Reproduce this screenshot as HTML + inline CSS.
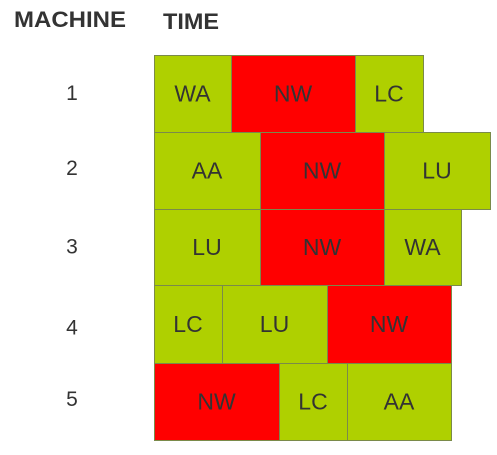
<!DOCTYPE html>
<html><head><meta charset="utf-8"><style>
body{margin:0;width:497px;height:450px;background:#fff;overflow:hidden;font-family:"Liberation Sans",sans-serif}
</style></head><body>
<svg width="497" height="450">
<text x="14" y="27" font-size="22" font-weight="bold" fill="#333" textLength="112" lengthAdjust="spacingAndGlyphs">MACHINE</text>
<text x="163" y="29" font-size="22" font-weight="bold" fill="#333" textLength="56" lengthAdjust="spacingAndGlyphs">TIME</text>
<g id="g"></g>
</svg>
<script>
const machines=["1","2","3","4","5"];
const tasks=[["WA","NW","LC"],["AA","NW","LU"],["LU","NW","WA"],["LC","LU","NW"],["NW","LC","AA"]];
const durations=[[77,124,68],[106,124,106],[106,124,77],[68,105,124],[125,68,104]];
const x0=154,rowTop=[55,132,209,285,363],rowBottom=[132,209,285,363,440];
const xs=v=>x0+v;
const g=document.getElementById('g');
const ns="http://www.w3.org/2000/svg";
machines.forEach((m,i)=>{
  const y0=rowTop[i],h=rowBottom[i]-rowTop[i];
  const t=document.createElementNS(ns,'text');
  t.setAttribute('x',72);t.setAttribute('y',y0+h/2+(i==1?-2:0)+(i==3?4:0)+(i==4?-2:0));
  t.setAttribute('font-size',21);t.setAttribute('fill','#333');t.setAttribute('text-anchor','middle');t.setAttribute('dominant-baseline','central');
  t.textContent=m;
  
  
  g.appendChild(t);
  let acc=0;
  tasks[i].forEach((tk,j)=>{
    const a=xs(acc),b=xs(acc+durations[i][j]);acc+=durations[i][j];
    const r=document.createElementNS(ns,'rect');
    r.setAttribute('x',a+0.5);r.setAttribute('y',y0+0.5);r.setAttribute('width',b-a);r.setAttribute('height',h);
    r.setAttribute('fill',tk=="NW"?"#ff0000":"#afd000");r.setAttribute('stroke','#7a8a4a');r.setAttribute('stroke-width',1);
    
    
    g.appendChild(r);
    const l=document.createElementNS(ns,'text');
    l.setAttribute('x',(a+b)/2);l.setAttribute('y',y0+h/2);
    l.setAttribute('font-size',23);l.setAttribute('fill','#333');l.setAttribute('text-anchor','middle');l.setAttribute('dominant-baseline','central');
    l.textContent=tk;
    
    
    g.appendChild(l);
  });
});
</script>
</body></html>
